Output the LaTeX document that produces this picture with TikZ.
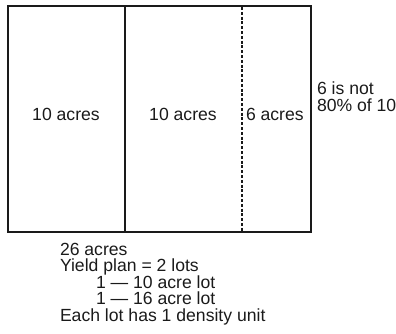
\documentclass[tikz,border=0pt]{standalone}
\usepackage{fontspec}
\setmainfont{Liberation Sans}
\usetikzlibrary{positioning}
\definecolor{cink}{HTML}{1A1A1A}
\tikzset{
  every picture/.style={font=\fontsize{17.6}{16.5}\selectfont, line width=2pt},
  lot/.style={draw=cink, line width=2pt},
  split/.style={draw=cink, line width=2.6pt, dash pattern=on 3pt off 1.8pt},
  label/.style={text=cink, inner sep=0pt},
  note/.style={text=cink, inner sep=0pt, align=left},
}
\newcommand{\planindent}{\hspace*{36pt}}
\begin{document}
\begin{tikzpicture}[x=1pt, y=-1pt]
  \useasboundingbox (0,0) rectangle (396,333);
  % parcels
  \draw[lot, line width=1.6pt] (8,6) rectangle (125,232);
  \draw[lot] (125,6) rectangle (311,232);
  \coordinate (cuttop) at (242,7);
  \coordinate (cutbot) at (242,231);
  \draw[split] (cuttop) -- (cutbot);
  \node[label] (left) at (66,114) {10 acres};
  \node[label] (mid) at (183,114) {10 acres};
  \node[label, anchor=west] (small) at (245,114) {6 acres};
  \node[label, anchor=north west, align=left] (why) at (316,81) {6 is not\\80\% of 10};
  % yield plan (base is the last line)
  \node[note, anchor=base west] (plan) at (59,321) {26 acres\\Yield plan = 2 lots\\
    \planindent 1 --- 10 acre lot\\\planindent 1 --- 16 acre lot\\
    Each lot has 1 density unit};
\end{tikzpicture}
\end{document}
